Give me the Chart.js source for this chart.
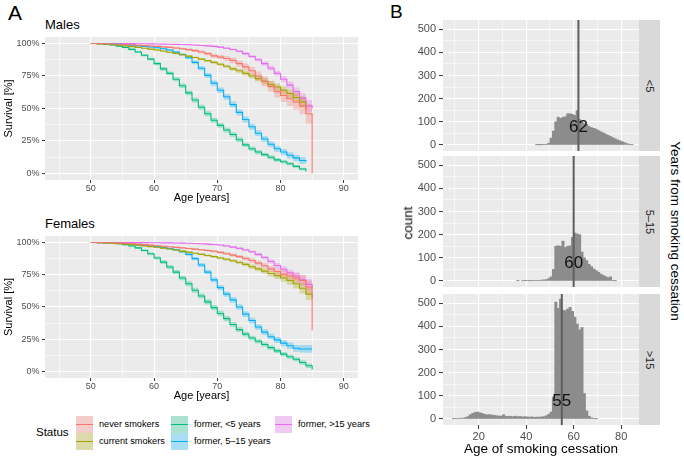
<!DOCTYPE html>
<html>
<head>
<meta charset="utf-8">
<script src="https://cdn.jsdelivr.net/npm/chart.js@4.4.1/dist/chart.umd.min.js"></script>
<style>
  body { margin: 0; background: #fff; font-family: "Liberation Sans", Arial, sans-serif; }
  #fig { position: relative; width: 684px; height: 462px; overflow: hidden; }
  #fig canvas { position: absolute; }
  .t { position: absolute; white-space: nowrap; line-height: 1; color: #000; }
  .rot { transform: translate(-50%, -50%) rotate(90deg); }
  .rotl { transform: translate(-50%, -50%) rotate(-90deg); }
  .strip { position: absolute; left: 639px; width: 21px; height: 131px; background: #D9D9D9; }
  .strip span { position: absolute; left: 50%; top: 50%; transform: translate(-50%, -50%) rotate(90deg);
                font-size: 11px; color: #1A1A1A; white-space: nowrap; }
  .key { position: absolute; width: 17px; height: 17px; }
  .key i { position: absolute; left: 0; right: 0; top: 8px; height: 1px; }
  .lab { position: absolute; font-size: 9.2px; line-height: 17px; white-space: nowrap; color: #000; }
</style>
</head>
<body>
<div id="fig">
  <div class="t" style="left:8px;top:2px;font-size:21px">A</div>
  <div class="t" style="left:45px;top:18px;font-size:13px">Males</div>
  <canvas id="males" width="360" height="168" style="left:0;top:37px"></canvas>
  <div class="t" style="left:45px;top:217px;font-size:13px">Females</div>
  <canvas id="females" width="360" height="167" style="left:0;top:236px"></canvas>

  <div class="t" style="left:36px;top:427px;font-size:11.5px">Status</div>
  <div id="legend"></div>

  <div class="t" style="left:390px;top:2px;font-size:19px">B</div>
  <canvas id="h1" width="229" height="131" style="left:410px;top:20px"></canvas>
  <canvas id="h2" width="229" height="131" style="left:410px;top:156px"></canvas>
  <canvas id="h3" width="229" height="168" style="left:410px;top:294px"></canvas>
  <div class="strip" style="top:20px"><span>&lt;5</span></div>
  <div class="strip" style="top:156px"><span>5–15</span></div>
  <div class="strip" style="top:294px"><span>&gt;15</span></div>
  <div class="t rotl" style="left:408px;top:223px;font-size:13.5px">count</div>
  <div class="t rot" style="left:675px;top:231px;font-size:13.5px">Years from smoking cessation</div>
</div>
<script>
const FONT = '"Liberation Sans", Arial, sans-serif';

// survival curves, one value per year of age
const ages = [50,51,52,53,54,55,56,57,58,59,60,61,62,63,64,65,66,67,68,69,70,71,72,73,74,75,76,77,78,79,80,81,82,83,84,85];

const mNever   = [100,99.9,99.8,99.6,99.4,99.2,99,98.7,98.4,98.1,97.8,97.4,97,96.5,96,95.3,94.5,93.5,92.2,90.5,89.5,88.5,87,84.5,82,79,75,71,67,63,60,57.5,55,52,46,0];
const mCurrent = [100,99.7,99.4,99,98.6,98.1,97.6,97,96.4,95.7,95,94.2,93.3,92.4,91.4,90.3,89.2,88,86.8,85.5,84,82.5,80.5,79,77,75,73,71,68.5,66.5,64,61.5,58.5,55,49,null];
const mLt5     = [100,99.8,99.4,98.8,98,97,95.5,93.5,91,88,84.5,80.5,77,72.5,67.5,62,56.5,51,46,41,37,33.5,30,26,22,19,16.5,14.5,12.5,10.5,9,7.5,5.5,3.5,1.5,null];
const m5to15   = [100,99.9,99.8,99.6,99.3,99,98.6,98.2,97.8,97.3,96.7,96,95,93.5,91.5,89,85.5,81,75.5,69.5,64,59,53,47,41.5,36,31,26.5,22.5,19,16.5,14,12,10,9,null];
const mGt15    = [100,100,100,100,100,99.9,99.9,99.8,99.8,99.7,99.6,99.5,99.4,99.3,99.2,99,98.8,98.5,98.2,97.8,97.2,96.4,95.4,94,92.2,90,87.5,84.5,81,77,72.5,68,63,58,52,50];

const mNeverCI   = [0,0.1,0.1,0.2,0.2,0.3,0.3,0.4,0.4,0.5,0.5,0.6,0.6,0.7,0.8,0.9,1,1.1,1.3,1.5,1.7,1.9,2.1,2.4,2.7,3,3.4,3.8,4.2,4.6,5,5.5,6,6.5,7.5,8];
const mCurrentCI = [0,0.1,0.1,0.2,0.2,0.3,0.3,0.4,0.4,0.5,0.5,0.5,0.6,0.6,0.7,0.7,0.8,0.8,0.9,1,1.1,1.2,1.4,1.6,1.8,2,2.2,2.4,2.6,2.9,3.2,3.5,3.9,4.4,5,null];
const mLt5CI     = [0,0.2,0.3,0.4,0.5,0.6,0.8,0.9,1,1.1,1.3,1.4,1.5,1.6,1.7,1.8,1.8,1.9,1.9,1.9,1.9,1.9,1.8,1.8,1.7,1.7,1.6,1.5,1.5,1.4,1.3,1.2,1.1,1,0.9,null];
const m5to15CI   = [0,0.1,0.1,0.2,0.2,0.3,0.3,0.4,0.4,0.5,0.6,0.7,0.8,0.9,1,1.2,1.4,1.6,1.8,2,2.1,2.2,2.3,2.3,2.3,2.3,2.2,2.2,2.2,2.2,2.3,2.4,2.5,2.7,3,null];
const mGt15CI    = [0,0,0,0,0,0,0,0.1,0.1,0.1,0.1,0.1,0.2,0.2,0.2,0.3,0.3,0.4,0.4,0.5,0.6,0.7,0.8,0.9,1,1.2,1.4,1.6,1.8,2,2.3,2.7,3.2,3.8,4.5,5.5];

const fNever   = [100,99.9,99.8,99.7,99.5,99.3,99,98.7,98.3,97.9,97.5,97.1,96.7,96.2,95.8,95.3,94.8,94.3,93.8,93.2,92.3,91.3,90.2,89,87.6,86,84,82,79.5,77.5,75.5,74,72.5,70.5,65.5,32];
const fCurrent = [100,99.8,99.6,99.3,99,98.6,98.2,97.8,97.3,96.8,96.3,95.6,94.9,94.1,93.3,92.5,91.6,90.8,89.9,89,88,87,85.8,84.5,83,81.2,79.5,77.8,76,74.3,72.5,70.5,68,64.5,60,57];
const fLt5     = [100,99.9,99.7,99.4,99,98.3,97.3,95.8,93.8,91.2,88,84.8,81,77,72.5,68,63,58.5,54,49.5,45,41,36.5,32.5,29,26,23.5,21,18.5,16,13.5,11.5,9.5,7,4.5,1.5];
const f5to15   = [100,99.9,99.8,99.6,99.3,99,98.6,98.2,97.8,97.3,96.8,96.1,95.3,94.3,92.8,90.8,87.5,82.5,77,71,65,60,55.5,50,44.5,39.5,34.5,30.5,27,24.5,22,20,18,17.5,17.5,17.5];
const fGt15    = [100,100,100,100,100,100,99.9,99.9,99.9,99.8,99.8,99.7,99.7,99.6,99.5,99.4,99.2,99,98.7,98.4,98,97.3,96.4,95.4,94.2,92.8,90.8,88.3,85.3,82.2,79.3,76.5,74,71,67.5,65];

const fNeverCI   = [0,0.1,0.1,0.1,0.2,0.2,0.2,0.3,0.3,0.4,0.4,0.5,0.5,0.5,0.6,0.6,0.7,0.7,0.8,0.9,1,1.1,1.2,1.3,1.5,1.7,1.9,2.1,2.4,2.7,3,3.3,3.7,4.2,5,5.5];
const fCurrentCI = [0,0.1,0.1,0.2,0.2,0.3,0.3,0.3,0.4,0.4,0.5,0.5,0.5,0.6,0.6,0.7,0.7,0.8,0.8,0.9,1,1.1,1.2,1.4,1.5,1.7,1.9,2.1,2.3,2.6,2.9,3.2,3.6,4,4.5,5];
const fLt5CI     = [0,0.1,0.2,0.3,0.4,0.5,0.6,0.8,0.9,1.1,1.3,1.4,1.6,1.7,1.8,1.9,2,2,2,2,2,2,1.9,1.9,1.8,1.8,1.7,1.7,1.6,1.6,1.6,1.6,1.6,1.7,1.8,2];
const f5to15CI   = [0,0.1,0.1,0.2,0.2,0.3,0.3,0.4,0.4,0.5,0.5,0.6,0.7,0.8,0.9,1.1,1.3,1.5,1.7,1.9,2,2.1,2.2,2.2,2.2,2.2,2.2,2.2,2.2,2.3,2.4,2.5,2.6,2.8,3,3];
const fGt15CI    = [0,0,0,0,0,0,0,0,0.1,0.1,0.1,0.1,0.1,0.2,0.2,0.2,0.3,0.3,0.4,0.4,0.5,0.6,0.7,0.8,0.9,1,1.2,1.4,1.6,1.9,2.2,2.5,2.9,3.4,4,4.5];

const statusLabels = ['never smokers', 'current smokers', 'former, <5 years', 'former, 5–15 years', 'former, >15 years'];
const statusColors = ['#F8766D', '#A3A500', '#00BF7D', '#00B0F6', '#E76BF3'];
const statusBands  = ['rgba(248,118,109,0.3)', 'rgba(163,165,0,0.3)', 'rgba(0,191,125,0.3)', 'rgba(0,176,246,0.3)', 'rgba(231,107,243,0.3)'];

const ageTicks = [45,50,55,60,65,70,75,80,85,90];
const ageMajor = [50,60,70,80,90];
const survTicks = [0,12.5,25,37.5,50,62.5,75,87.5,100];
const survMajor = [0,25,50,75,100];

// histograms of age at smoking cessation, 1-year bins starting at these ages
const binAges = [9,10,11,12,13,14,15,16,17,18,19,20,21,22,23,24,25,26,27,28,29,30,31,32,33,34,35,36,37,38,39,40,41,42,43,44,45,46,47,48,49,50,51,52,53,54,55,56,57,58,59,60,61,62,63,64,65,66,67,68,69,70,71,72,73,74,75,76,77,78,79,80,81,82,83,84];
const binWidth = 1;
const countLt5 = [0,0,0,0,0,0,0,0,0,0,0,0,0,0,0,0,0,0,0,0,0,0,0,0,0,0,0,0,0,0,0,0,0,0,0,
  1,1,1,2,3,8,30,60,100,120,115,120,122,135,135,132,128,148,110,100,92,88,80,75,72,68,62,57,52,47,42,37,32,27,22,18,14,10,6,3,1];
const count5to15 = [0,0,0,0,0,0,0,0,0,0,0,0,0,0,0,0,0,0,0,0,0,0,0,0,0,0,0,
  1,0,2,1,2,1,3,2,3,2,4,5,6,10,18,50,150,152,150,172,145,150,152,188,207,203,200,125,100,88,72,62,52,45,38,30,24,19,14,18,3,1,0,0,0,0,0,0,0];
const countGt15 = [1,2,2,3,4,6,10,18,24,28,30,27,24,20,18,19,17,16,14,13,12,18,12,11,12,10,12,10,11,9,10,9,8,9,7,8,8,9,10,14,20,30,95,505,478,518,470,468,475,482,465,440,410,385,395,110,35,12,5,2,1,
  0,0,0,0,0,0,0,0,0,0,0,0,0,0,0];
const medians = [62, 60, 55];
const medianLabelAt = 75;

const histXTicks = [10,20,30,40,50,60,70,80];
const histXMajor = [20,40,60,80];
const histYTicks = [0,50,100,150,200,250,300,350,400,450,500];
const histYMajor = [0,100,200,300,400,500];

const panelBg = {
  id: 'panelBg',
  beforeDraw(chart) {
    const {ctx, chartArea: a} = chart;
    ctx.save();
    ctx.fillStyle = '#EBEBEB';
    ctx.fillRect(a.left, a.top, a.right - a.left, a.bottom - a.top);
    ctx.restore();
  }
};

const medianLine = {
  id: 'medianLine',
  afterDatasetsDraw(chart, args, opts) {
    const {ctx, chartArea: a, scales: {x, y}} = chart;
    const px = x.getPixelForValue(opts.value);
    ctx.save();
    ctx.strokeStyle = '#5E5E5E';
    ctx.lineWidth = 2;
    ctx.beginPath();
    ctx.moveTo(px, a.top);
    ctx.lineTo(px, a.bottom);
    ctx.stroke();
    ctx.fillStyle = '#111';
    ctx.font = '17px ' + FONT;
    ctx.textAlign = 'center';
    ctx.textBaseline = 'middle';
    ctx.fillText(String(opts.value), px, y.getPixelForValue(medianLabelAt));
    ctx.restore();
  }
};

function grid(majors, tickLen, draw = true) {
  const isMajor = c => c.tick && majors.includes(c.tick.value);
  return {
    color: '#FFFFFF',
    lineWidth: c => isMajor(c) ? 1.1 : 0.55,
    tickColor: c => isMajor(c) ? '#333333' : 'rgba(0,0,0,0)',
    tickWidth: 1,
    tickLength: tickLen,
    drawTicks: draw
  };
}

function survivalChart(id, vals, cis) {
  const datasets = [];
  const pts = (k, f) => ages.map((a, i) => vals[k][i] == null ? null : {x: a, y: f(i)}).filter(p => p);
  vals.forEach((v, k) => {
    datasets.push({data: pts(k, i => Math.min(100, v[i] + cis[k][i])), borderColor: 'transparent', borderWidth: 0,
      pointRadius: 0, stepped: true, fill: false, order: 2});
    datasets.push({data: pts(k, i => Math.max(0, v[i] - cis[k][i])), borderColor: 'transparent', borderWidth: 0,
      pointRadius: 0, stepped: true, fill: '-1', backgroundColor: statusBands[k], order: 2});
  });
  vals.forEach((v, k) => {
    datasets.push({data: pts(k, i => v[i]), borderColor: statusColors[k], borderWidth: 1.1,
      pointRadius: 0, stepped: true, fill: false, order: 1});
  });

  new Chart(document.getElementById(id), {
    type: 'line',
    data: {datasets},
    options: {
      responsive: false, animation: false, events: [],
      layout: {padding: {top: 0, right: 2, bottom: 0, left: 0}},
      plugins: {legend: {display: false}, tooltip: {enabled: false}},
      scales: {
        x: {
          type: 'linear', min: 42.75, max: 92.25,
          afterBuildTicks: s => { s.ticks = ageTicks.map(v => ({value: v})); },
          afterFit: s => { s.height = 25; s.paddingLeft = 0; s.paddingRight = 0; },
          ticks: {autoSkip: false, maxRotation: 0, padding: 0.5, color: '#4D4D4D', font: {size: 9, family: FONT},
                  callback: v => ageMajor.includes(v) ? String(v) : ''},
          grid: grid(ageMajor, 3),
          border: {display: false},
          title: {display: true, text: 'Age [years]', color: '#000', font: {size: 11, family: FONT}, padding: {top: 0, bottom: 0}}
        },
        y: {
          min: -5, max: 105,
          afterBuildTicks: s => { s.ticks = survTicks.map(v => ({value: v})); },
          afterFit: s => { s.width = 45; s.paddingTop = 0; s.paddingBottom = 0; },
          ticks: {autoSkip: false, padding: 2.5, color: '#4D4D4D', font: {size: 9, family: FONT},
                  callback: v => survMajor.includes(v) ? v + '%' : ''},
          grid: grid(survMajor, 3),
          border: {display: false},
          title: {display: true, text: 'Survival [%]', color: '#000', font: {size: 11, family: FONT}, padding: {top: 2, bottom: 0}}
        }
      }
    },
    plugins: [panelBg]
  });
}

survivalChart('males', [mNever, mCurrent, mLt5, m5to15, mGt15], [mNeverCI, mCurrentCI, mLt5CI, m5to15CI, mGt15CI]);
survivalChart('females', [fNever, fCurrent, fLt5, f5to15, fGt15], [fNeverCI, fCurrentCI, fLt5CI, f5to15CI, fGt15CI]);

function histChart(id, counts, median, bottom) {
  // empty bins are left out so that no zero-height sliver is drawn
  const bars = binAges.map((a, i) => ({x: a + binWidth / 2, y: counts[i]})).filter(b => b.y > 0);
  new Chart(document.getElementById(id), {
    type: 'bar',
    data: {datasets: [{
      data: bars,
      backgroundColor: '#8C8C8C', borderWidth: 0, barPercentage: 1, categoryPercentage: 1, grouped: false
    }]},
    options: {
      responsive: false, animation: false, events: [],
      layout: {padding: 0},
      plugins: {legend: {display: false}, tooltip: {enabled: false}, medianLine: {value: median}},
      scales: {
        x: {
          type: 'linear', min: 5, max: 87.5, offset: false,
          afterBuildTicks: s => { s.ticks = histXTicks.map(v => ({value: v})); },
          afterFit: s => { s.height = bottom ? 37 : 0; s.paddingLeft = 0; s.paddingRight = 0; },
          ticks: {display: bottom, autoSkip: false, maxRotation: 0, padding: 1.5, color: '#4D4D4D', font: {size: 11, family: FONT},
                  callback: v => histXMajor.includes(v) ? String(v) : ''},
          grid: Object.assign(grid(histXMajor, 4, bottom), {offset: false}),
          border: {display: false},
          title: {display: bottom, text: 'Age of smoking cessation', color: '#000', font: {size: 13.5, family: FONT}, padding: {top: 0, bottom: 5}}
        },
        y: {
          min: -26, max: 540,
          afterBuildTicks: s => { s.ticks = histYTicks.map(v => ({value: v})); },
          afterFit: s => { s.width = 33; s.paddingTop = 0; s.paddingBottom = 0; },
          ticks: {autoSkip: false, padding: 3, color: '#4D4D4D', font: {size: 11, family: FONT},
                  callback: v => histYMajor.includes(v) ? String(v) : ''},
          grid: grid(histYMajor, 4),
          border: {display: false}
        }
      }
    },
    plugins: [panelBg, medianLine]
  });
}

histChart('h1', countLt5, medians[0], false);
histChart('h2', count5to15, medians[1], false);
histChart('h3', countGt15, medians[2], true);

// legend, filled column by column like the original
const legend = document.getElementById('legend');
const keyCols = [76, 171, 275];
const keyRows = [416, 433];
statusLabels.forEach((lab, k) => {
  const col = Math.floor(k / 2), row = k % 2;
  const key = document.createElement('div');
  key.className = 'key';
  key.style.left = keyCols[col] + 'px';
  key.style.top = keyRows[row] + 'px';
  key.style.background = `linear-gradient(${statusBands[k]}, ${statusBands[k]}), #F2F2F2`;
  key.innerHTML = `<i style="background:${statusColors[k]}"></i>`;
  legend.appendChild(key);
  const t = document.createElement('div');
  t.className = 'lab';
  t.style.left = (keyCols[col] + 23) + 'px';
  t.style.top = keyRows[row] + 'px';
  t.textContent = lab;
  legend.appendChild(t);
});
</script>
</body>
</html>
